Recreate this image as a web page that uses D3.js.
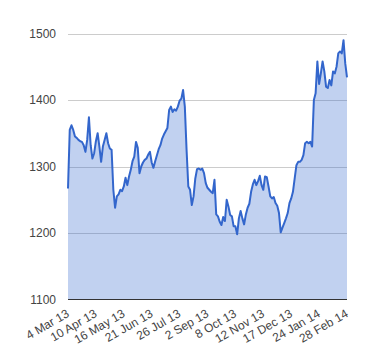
<!DOCTYPE html>
<html>
<head>
<meta charset="utf-8">
<script src="https://cdn.jsdelivr.net/npm/d3@7"></script>
<style>
  html, body { margin: 0; padding: 0; background: #fff; }
  svg { display: block; }
</style>
</head>
<body>
<svg id="chart" width="380" height="360"></svg>
<script>
// ---- data ----
const tickLabels = ["4 Mar 13","10 Apr 13","16 May 13","21 Jun 13","26 Jul 13","2 Sep 13",
                    "8 Oct 13","12 Nov 13","17 Dec 13","24 Jan 14","28 Feb 14"];
const yTicks = [1100, 1200, 1300, 1400, 1500];
const values = [
  1267,1355,1362,1355,1345,1343,1340,1338,1337,1332,
  1322,1340,1374,1332,1312,1320,1338,1350,1330,1307,
  1330,1340,1350,1335,1327,1325,1265,1238,1255,1258,
  1265,1263,1270,1283,1272,1285,1295,1308,1315,1337,
  1328,1290,1300,1306,1310,1312,1318,1322,1306,1298,
  1308,1317,1326,1332,1342,1348,1353,1358,1385,1390,
  1382,1386,1384,1390,1399,1402,1415,1390,1325,1270,
  1265,1242,1255,1282,1296,1297,1295,1297,1290,1275,
  1268,1265,1262,1260,1280,1228,1225,1217,1212,1224,
  1218,1250,1240,1227,1225,1210,1210,1198,1222,1233,
  1222,1213,1228,1238,1244,1262,1273,1280,1272,1278,
  1286,1272,1265,1285,1284,1270,1255,1252,1254,1245,
  1241,1230,1201,1208,1215,1222,1230,1245,1252,1262,
  1282,1302,1307,1307,1310,1317,1335,1337,1335,1337,
  1330,1400,1410,1458,1424,1440,1458,1443,1420,1418,
  1430,1422,1443,1440,1450,1470,1473,1470,1490,1455,
  1434
];
const tickEvery = (values.length - 1) / (tickLabels.length - 1);

// ---- layout ----
const m = { left: 68, right: 347, top: 33.5, bottom: 299.5 };
const svg = d3.select("#chart");

const x = d3.scaleLinear().domain([0, values.length - 1]).range([m.left, m.right]);
const y = d3.scaleLinear().domain([1100, 1500]).range([m.bottom, m.top]);

// gridlines
svg.append("g").selectAll("line")
  .data(yTicks.filter(d => d !== 1100))
  .join("line")
  .attr("x1", m.left).attr("x2", m.right)
  .attr("y1", d => Math.round(y(d)) + 0.5).attr("y2", d => Math.round(y(d)) + 0.5)
  .attr("stroke", "#cccccc").attr("stroke-width", 1);

// area
const area = d3.area()
  .x((d, i) => x(i))
  .y0(y(1100))
  .y1(d => y(d));
svg.append("path")
  .datum(values)
  .attr("d", area)
  .attr("fill", "#3366cc")
  .attr("fill-opacity", 0.3);

// line
const line = d3.line()
  .x((d, i) => x(i))
  .y(d => y(d));
svg.append("path")
  .datum(values)
  .attr("d", line)
  .attr("fill", "none")
  .attr("stroke", "#3366cc")
  .attr("stroke-width", 2)
  .attr("stroke-linejoin", "round");

// baseline
svg.append("line")
  .attr("x1", m.left).attr("x2", m.right)
  .attr("y1", Math.round(y(1100)) - 0.5).attr("y2", Math.round(y(1100)) - 0.5)
  .attr("stroke", "#333333").attr("stroke-width", 1);

// y labels
svg.append("g").selectAll("text")
  .data(yTicks)
  .join("text")
  .attr("x", 56)
  .attr("y", d => y(d))
  .attr("dy", "0.35em")
  .attr("text-anchor", "end")
  .attr("font-family", "Arial, 'Liberation Sans', sans-serif")
  .attr("font-size", 12)
  .attr("fill", "#444444")
  .text(d => d);

// x labels (rotated)
svg.append("g").selectAll("text")
  .data(tickLabels)
  .join("text")
  .attr("transform", (d, i) => `translate(${x(i * tickEvery) + 2},${316}) rotate(-30)`)
  .attr("text-anchor", "end")
  .attr("font-family", "Arial, 'Liberation Sans', sans-serif")
  .attr("font-size", 12)
  .attr("fill", "#444444")
  .text(d => d);
</script>
</body>
</html>
